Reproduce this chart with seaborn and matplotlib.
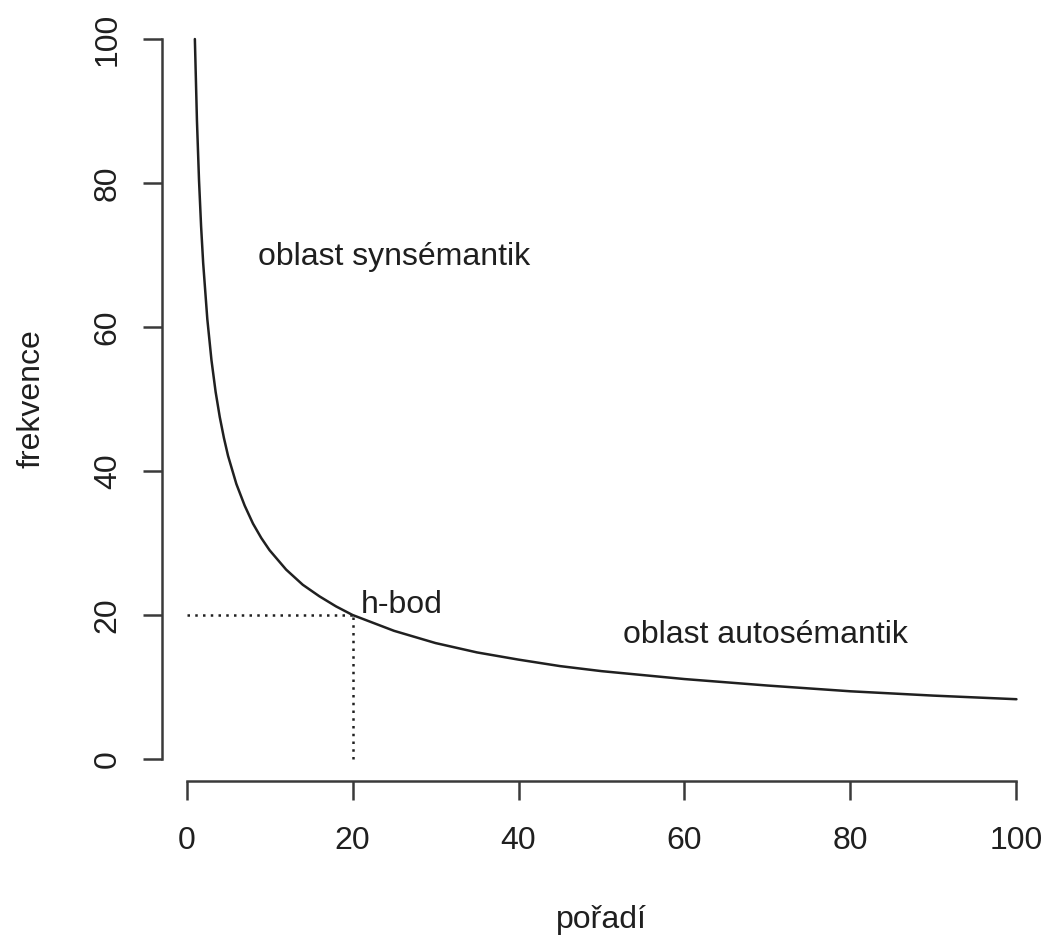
import matplotlib
matplotlib.use("Agg")
import matplotlib.pyplot as plt
import seaborn as sns
import pandas as pd

# ---- data ----
rank = [1, 1.25, 1.5, 1.75, 2, 2.5, 3, 3.5, 4, 4.5, 5, 6, 7, 8, 9, 10,
        12, 14, 16, 18, 20, 25, 30, 35, 40, 45, 50, 60, 70, 80, 90, 100]
freq = [100, 88.7, 80.4, 74.0, 68.9, 61.1, 55.4, 51.0, 47.5, 44.6, 42.1,
        38.2, 35.2, 32.7, 30.7, 29.0, 26.3, 24.2, 22.6, 21.2, 20.0, 17.8,
        16.1, 14.8, 13.8, 12.9, 12.2, 11.1, 10.2, 9.4, 8.8, 8.3]
h_rank = 20
h_freq = 20
x_ticks = [0, 20, 40, 60, 80, 100]
y_ticks = [0, 20, 40, 60, 80, 100]
x_label = "pořadí"
y_label = "frekvence"
notes = ["oblast synsémantik", "h-bod", "oblast autosémantik"]
note_x = [25, 25.9, 69.8]
note_y = [68.6, 20.3, 16.1]

sns.set_style("white")
plt.rcParams['font.family'] = ['Liberation Sans', 'DejaVu Sans']
FS = 23
INK = "#3a3a3a"
TXT = "#1f1f1f"

df = pd.DataFrame({"rank": rank, "freq": freq})

W, H = 1045, 936
fig = plt.figure(figsize=(W / 100, H / 100), dpi=100)
L, R, T, B = 162, 1041, 17, 781
ax = fig.add_axes([L / W, (H - B) / H, (R - L) / W, (B - T) / H])

sns.lineplot(data=df, x="rank", y="freq", color="#202020", lw=1.8, ax=ax,
             sort=True, estimator=None)

ax.hlines(h_freq, 0, h_rank, colors="#202020", linestyles=(0, (1, 2.1)), lw=1.8)
ax.vlines(h_rank, 0, h_freq, colors="#202020", linestyles=(0, (1, 2.1)), lw=1.8)

for t, x, y in zip(notes, note_x, note_y):
    ax.text(x, y, t, ha="center", va="baseline", fontsize=FS, color=TXT)

ax.set_xlim(-2.96, 102.96)
ax.set_ylim(-3.06, 103.06)
ax.set_xticks(x_ticks)
ax.set_yticks(y_ticks)
ax.set_xticklabels([str(v) for v in x_ticks])
ax.set_yticklabels([str(v) for v in y_ticks], rotation=90, va="center")

for s in ["top", "right"]:
    ax.spines[s].set_visible(False)
for s in ["left", "bottom"]:
    ax.spines[s].set_bounds(0, 100)
    ax.spines[s].set_linewidth(1.8)
    ax.spines[s].set_color(INK)

ax.tick_params(direction="out", length=13.7, width=1.8, color=INK,
               labelsize=FS, labelcolor=TXT)
ax.tick_params(axis="x", bottom=True, pad=18.5)
ax.tick_params(axis="y", left=True, pad=14.5)

ax.set_xlabel(x_label, fontsize=FS, color=TXT, va="baseline")
ax.set_ylabel(y_label, fontsize=FS, color=TXT, va="baseline")
ax.xaxis.set_label_coords(0.5, -(928 - B) / (B - T))
ax.yaxis.set_label_coords((40 - L) / (R - L), 0.5)

fig.savefig("out.png", dpi=100)
